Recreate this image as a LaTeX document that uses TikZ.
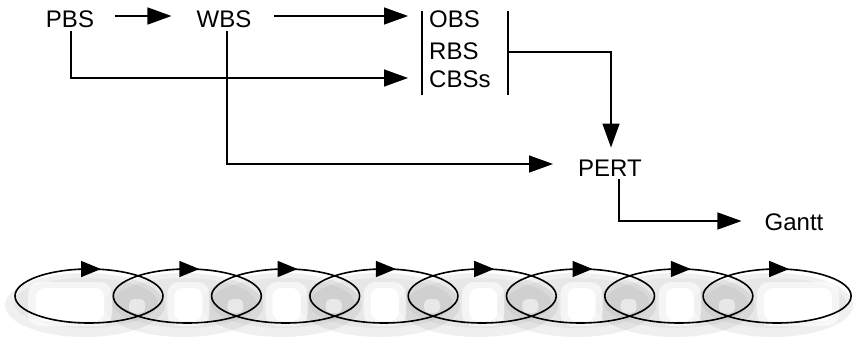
\documentclass[tikz,border=0pt]{standalone}
\usepackage{fontspec}
\setmainfont{Liberation Sans}
\usetikzlibrary{arrows.meta,calc}
\tikzset{
  lbl/.style={font=\fontsize{24}{28}\selectfont, inner sep=0pt},
  conn/.style={line width=1.4pt, -{Triangle[length=24pt,width=17pt]}},
  barline/.style={line width=1.6pt},
  loopline/.style={line width=1.6pt},
  looptip/.style={line width=1.6pt, -{Triangle[length=20pt,width=16pt]}},
  shadowA/.style={fill=black, opacity=0.06},
  shadowB/.style={fill=black, opacity=0.04},
  whitesoft/.style={fill=white, opacity=0.6, rounded corners=12pt},
  whitepatch/.style={fill=white, rounded corners=9pt},
}
\begin{document}
\begin{tikzpicture}[x=1pt,y=-1pt]
\useasboundingbox (0,0) rectangle (854,343);

% ---- text nodes
\node[lbl] (pbs) at (70,19) {PBS};
\node[lbl] (wbs) at (224,19) {WBS};
\node[lbl,anchor=west] (obs) at (429,19) {OBS};
\node[lbl,anchor=west] (rbs) at (429,51) {RBS};
\node[lbl,anchor=west] (cbs) at (429,79) {CBSs};
\node[lbl] (pert) at (610,168) {PERT};
\node[lbl] (gantt) at (794,222) {Gantt};

% ---- bars
\coordinate (lbt) at (422,11);
\coordinate (lbb) at (422,95);
\coordinate (rbt) at (508,11);
\coordinate (rbb) at (508,95);
\coordinate (rmid) at (508,52);
\draw[barline] (lbt) -- (lbb);
\draw[barline] (rbt) -- (rbb);

% ---- connectors
\draw[conn] ($(pbs.east)+(21,-3)$) -- ($(wbs.west)+(-25,-3)$);
\draw[conn] ($(wbs.east)+(22,-3)$) -- ($(obs.west)+(-21,-3)$);
\draw[conn] ($(pbs.south)+(1,3)$) |- ($(cbs.west)+(-21,-1)$);
\draw[conn] ($(wbs.south)+(3,3)$) |- ($(pert.west)+(-25,-4)$);
\draw[conn] (rmid) -| ($(pert.north)+(1,-12)$);
\draw[conn] ($(pert.south)+(9,3)$) |- ($(gantt.west)+(-23,-1)$);

% ---- shadow of the loop chain
\foreach \i in {0,...,7}{
  \pgfmathsetmacro\cx{89+98.3*\i}
  \fill[shadowA] (\cx-4,305) ellipse [x radius=80pt, y radius=32pt];
  \fill[shadowB] (\cx-3,303) ellipse [x radius=72pt, y radius=25pt];
}
% white inner patches (soft halo, then core)
\fill[whitesoft] (28,282) rectangle (112,326);
\fill[whitepatch] (36,288) rectangle (104,321);
\foreach \i in {1,...,6}{
  \pgfmathsetmacro\cx{89+98.3*\i}
  \fill[whitesoft] (\cx-20,282) rectangle (\cx+22,326);
  \fill[whitepatch] (\cx-13,288) rectangle (\cx+15,321);
}
\pgfmathsetmacro\cxl{89+98.3*7}
\fill[whitesoft] (\cxl-20,282) rectangle (\cxl+62,326);
\fill[whitepatch] (\cxl-13,288) rectangle (\cxl+55,321);
\foreach \i in {0,...,6}{
  \pgfmathsetmacro\ox{89+98.3*\i+49.15}
  \fill[white, opacity=0.5, rounded corners=5pt] (\ox-9,299) rectangle (\ox+7,313);
}

% ---- loops
\foreach \i in {0,...,7}{
  \pgfmathsetmacro\cx{89+98.3*\i}
  \draw[loopline] (\cx,296) ellipse [x radius=74pt, y radius=27pt];
  \draw[looptip] (\cx-8,269) -- (\cx+12,269);
}
\end{tikzpicture}
\end{document}
